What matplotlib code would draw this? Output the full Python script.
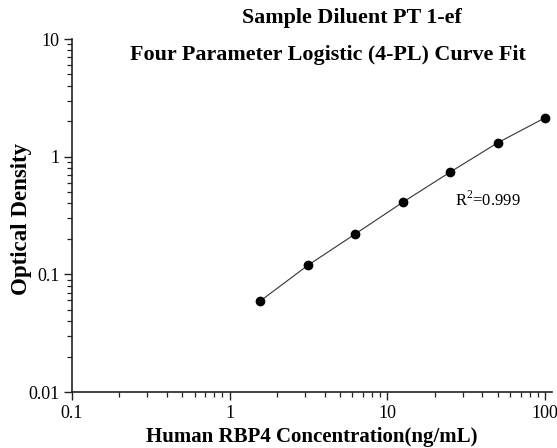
import matplotlib
matplotlib.use("Agg")
import matplotlib.pyplot as plt
from matplotlib.ticker import FixedLocator, FixedFormatter, LogLocator, NullFormatter

concentration = [1.5625, 3.125, 6.25, 12.5, 25, 50, 100]
optical_density = [0.0593, 0.119, 0.220, 0.409, 0.739, 1.31, 2.14]
x_ticks = [0.1, 1, 10, 100]
x_tick_labels = ["0.1", "1", "10", "100"]
y_ticks = [0.01, 0.1, 1, 10]
y_tick_labels = ["0.01", "0.1", "1", "10"]
title_lines = ["Sample Diluent PT 1-ef", "Four Parameter Logistic (4-PL) Curve Fit"]
r2_text = "R$^2$=0.999"

plt.rcParams['font.family'] = ['Liberation Serif', 'DejaVu Serif']
plt.rcParams['mathtext.fontset'] = 'custom'
plt.rcParams['mathtext.rm'] = 'Liberation Serif'

W, H = 557, 448
fig = plt.figure(figsize=(W/100, H/100), dpi=100)
left, right, top, bottom = 72, 552, 39, 392
ax = fig.add_axes([left/W, 1 - bottom/H, (right-left)/W, (bottom-top)/H])

ax.plot(concentration, optical_density, '-', color='#333333', lw=0.8, zorder=2)
ax.plot(concentration, optical_density, 'o', color='black', ms=6, zorder=3)

ax.set_xscale('log')
ax.set_yscale('log')
ax.set_xlim(0.1, 110.7)
ax.set_ylim(0.01, 10)
ax.xaxis.set_major_locator(FixedLocator(x_ticks))
ax.xaxis.set_major_formatter(FixedFormatter(x_tick_labels))
ax.yaxis.set_major_locator(FixedLocator(y_ticks))
ax.yaxis.set_major_formatter(FixedFormatter(y_tick_labels))
ax.xaxis.set_minor_locator(LogLocator(base=10, subs=range(2, 10)))
ax.yaxis.set_minor_locator(LogLocator(base=10, subs=range(2, 10)))
ax.xaxis.set_minor_formatter(NullFormatter())
ax.yaxis.set_minor_formatter(NullFormatter())

for s in ['top', 'right']:
    ax.spines[s].set_visible(False)
for s in ['left', 'bottom']:
    ax.spines[s].set_linewidth(1.2)
    ax.spines[s].set_color('#222222')
ax.tick_params(which='major', length=6, width=1.0, labelsize=13, color='#222222', pad=3)
ax.tick_params(which='minor', length=3.5, width=0.9, color='#222222')

ax.set_xlabel("Human RBP4 Concentration(ng/mL)", fontsize=15, fontweight='bold')
ax.set_ylabel("Optical Density", fontsize=16.5, fontweight='bold')
ax.xaxis.set_label_coords((312 - left) / (right - left), -(437 - bottom) / (bottom - top))
ax.yaxis.set_label_coords(-(left - 22) / (right - left), (bottom - 219) / (bottom - top))
ax.xaxis.label.set_va('center')
ax.yaxis.label.set_va('center')

fig.text(352/W, 1 - 18/H, title_lines[0], ha='center', va='center', fontsize=15.8, fontweight='bold')
fig.text(328/W, 1 - 55/H, title_lines[1], ha='center', va='center', fontsize=15.8, fontweight='bold')

ax.text(26.8, 0.43, r2_text, ha='left', va='center', fontsize=12)

fig.savefig("out.png", dpi=100)
